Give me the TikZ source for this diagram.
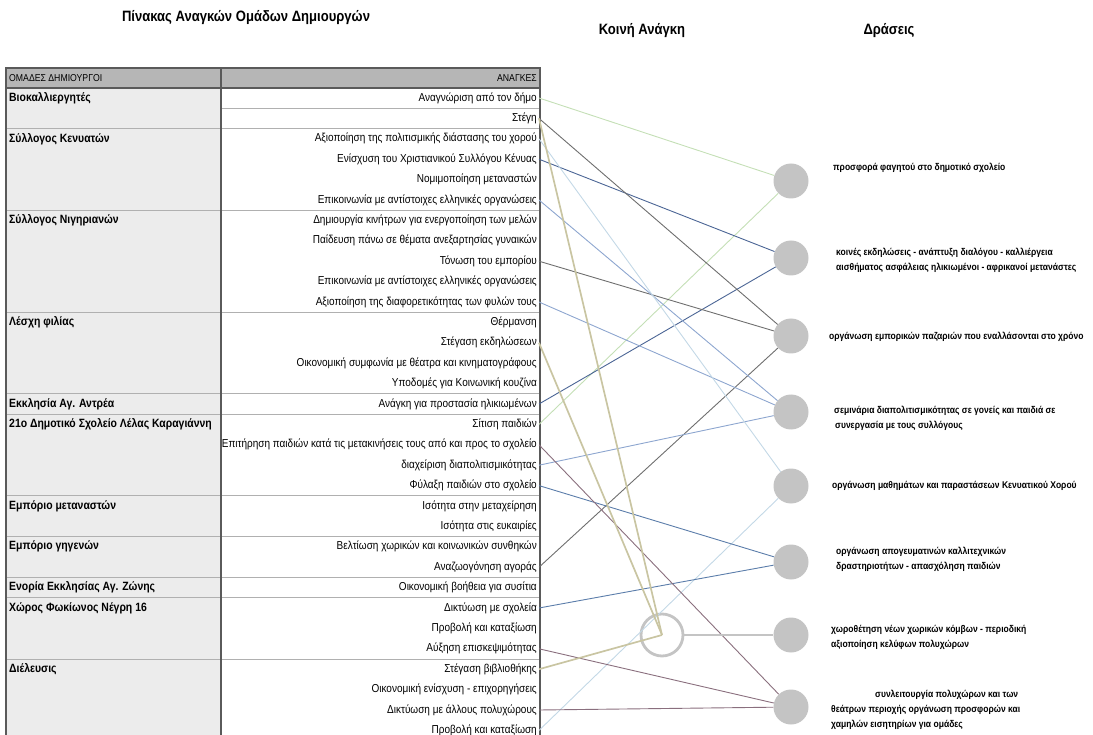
\documentclass[tikz,border=0pt]{standalone}
\usepackage{fontspec}
\setmainfont{Liberation Sans}[FakeStretch=0.87]
\usepackage{xcolor}
\usepackage{tikz}
\usetikzlibrary{calc}

\definecolor{headFill}{HTML}{B6B6B6}
\definecolor{colFill}{HTML}{ECECEC}
\definecolor{frameGray}{HTML}{5A5A5A}
\definecolor{sepGray}{HTML}{B0B0B0}
\definecolor{actGray}{HTML}{C4C4C4}
\definecolor{lnGreen}{HTML}{C4DFB6}
\definecolor{lnDark}{HTML}{6E6E6E}
\definecolor{lnKhaki}{HTML}{C9C5A2}
\definecolor{lnPale}{HTML}{C3D8E6}
\definecolor{lnNavy}{HTML}{4B6595}
\definecolor{lnMid}{HTML}{8DA6CF}
\definecolor{lnSteel}{HTML}{5B7DAA}
\definecolor{lnMauve}{HTML}{8A6F7E}

\tikzset{
  heading/.style={font=\bfseries\fontsize{15}{17}\selectfont},
  headtext/.style={font=\fontsize{10}{11}\selectfont, inner sep=0pt},
  need/.style={anchor=east, inner sep=2pt, font=\fontsize{11.5}{13}\selectfont},
  grpname/.style={anchor=west, inner sep=0pt, font=\bfseries\fontsize{12}{13}\selectfont},
  action/.style={circle, fill=actGray, minimum size=35pt, inner sep=0pt},
  actlabel/.style={anchor=west, align=left, inner sep=0pt, font=\bfseries\fontsize{9.8}{15}\selectfont},
  link/.style={line width=0.9pt},
}

\begin{document}
\begin{tikzpicture}[x=1pt,y=-1pt]
    \useasboundingbox (0,0) rectangle (1093,735);

    % Titles
    \node[heading] (tTable)   at (246,18) {Πίνακας Αναγκών Ομάδων Δημιουργών};
    \node[heading] (tCommon)  at (642,31) {Κοινή Ανάγκη};
    \node[heading] (tActions) at (889,31) {Δράσεις};

    % Table body
    \fill[colFill]  (6,88) rectangle (221,740);
    \fill[headFill] (6,68) rectangle (540,88);
    \draw[sepGray, line width=0.8pt] (221,108.2) -- (540,108.2); % Between the two rows
    \foreach \y in {128.6,210.2,312.2,393.8,414.2,495.8,536.6,577.4,597.8,659}
        \draw[sepGray, line width=1pt] (6,\y) -- (540,\y); % Group borders
    \draw[frameGray, line width=1.3pt] (6,740) -- (6,68) -- (540,68) -- (540,740);
    \draw[frameGray, line width=1.3pt] (6,88) -- (540,88);
    \draw[frameGray, line width=1.3pt] (221,68) -- (221,740);

    % Header
    \node[headtext, anchor=west] (hGroups) at (9,78)   {ΟΜΑΔΕΣ ΔΗΜΙΟΥΡΓΟΙ};
    \node[headtext, anchor=east] (hNeeds)  at (537,78) {ΑΝΑΓΚΕΣ};

    % Groups
    \node[grpname] (gBio)    at (9,98)    {Βιοκαλλιεργητές};
    \node[grpname] (gKenya)  at (9,138.8) {Σύλλογος Κενυατών};
    \node[grpname] (gNiger)  at (9,220.4) {Σύλλογος Νιγηριανών};
    \node[grpname] (gFilia)  at (9,322.4) {Λέσχη φιλίας};
    \node[grpname] (gAndrea) at (9,404)   {Εκκλησία Αγ. Αντρέα};
    \node[grpname] (gSchool) at (9,424.4) {21ο Δημοτικό Σχολείο Λέλας Καραγιάννη};
    \node[grpname] (gShopM)  at (9,506)   {Εμπόριο μεταναστών};
    \node[grpname] (gShopN)  at (9,546.8) {Εμπόριο γηγενών};
    \node[grpname] (gZoni)   at (9,587.6) {Ενορία Εκκλησίας Αγ. Ζώνης};
    \node[grpname] (gNegri)  at (9,608)   {Χώρος Φωκίωνος Νέγρη 16};
    \node[grpname] (gDiel)   at (9,669.2) {Διέλευσις};

    % Needs
    \node[need] (n1)  at (539,98)    {Αναγνώριση από τον δήμο};
    \node[need] (n2)  at (539,118.4) {Στέγη};
    \node[need] (n3)  at (539,138.8) {Αξιοποίηση της πολιτισμικής διάστασης του χορού};
    \node[need] (n4)  at (539,159.2) {Ενίσχυση του Χριστιανικού Συλλόγου Κένυας};
    \node[need] (n5)  at (539,179.6) {Νομιμοποίηση μεταναστών};
    \node[need] (n6)  at (539,200)   {Επικοινωνία με αντίστοιχες ελληνικές οργανώσεις};
    \node[need] (n7)  at (539,220.4) {Δημιουργία κινήτρων για ενεργοποίηση των μελών};
    \node[need] (n8)  at (539,240.8) {Παίδευση πάνω σε θέματα ανεξαρτησίας γυναικών};
    \node[need] (n9)  at (539,261.2) {Τόνωση του εμπορίου};
    \node[need] (n10) at (539,281.6) {Επικοινωνία με αντίστοιχες ελληνικές οργανώσεις};
    \node[need] (n11) at (539,302)   {Αξιοποίηση της διαφορετικότητας των φυλών τους};
    \node[need] (n12) at (539,322.4) {Θέρμανση};
    \node[need] (n13) at (539,342.8) {Στέγαση εκδηλώσεων};
    \node[need] (n14) at (539,363.2) {Οικονομική συμφωνία με θέατρα και κινηματογράφους};
    \node[need] (n15) at (539,383.6) {Υποδομές για Κοινωνική κουζίνα};
    \node[need] (n16) at (539,404)   {Ανάγκη για προστασία ηλικιωμένων};
    \node[need] (n17) at (539,424.4) {Σίτιση παιδιών};
    \node[need] (n18) at (539,444.8) {Επιτήρηση παιδιών κατά τις μετακινήσεις τους από και προς το σχολείο};
    \node[need] (n19) at (539,465.2) {διαχείριση διαπολιτισμικότητας};
    \node[need] (n20) at (539,485.6) {Φύλαξη παιδιών στο σχολείο};
    \node[need] (n21) at (539,506)   {Ισότητα στην μεταχείρηση};
    \node[need] (n22) at (539,526.4) {Ισότητα στις ευκαιρίες};
    \node[need] (n23) at (539,546.8) {Βελτίωση χωρικών και κοινωνικών συνθηκών};
    \node[need] (n24) at (539,567.2) {Αναζωογόνηση αγοράς};
    \node[need] (n25) at (539,587.6) {Οικονομική βοήθεια για συσίτια};
    \node[need] (n26) at (539,608)   {Δικτύωση με σχολεία};
    \node[need] (n27) at (539,628.4) {Προβολή και καταξίωση};
    \node[need] (n28) at (539,648.8) {Αύξηση επισκεψιμότητας};
    \node[need] (n29) at (539,669.2) {Στέγαση βιβλιοθήκης};
    \node[need] (n30) at (539,689.6) {Οικονομική ενίσχυση - επιχορηγήσεις};
    \node[need] (n31) at (539,710)   {Δικτύωση με άλλους πολυχώρους};
    \node[need] (n32) at (539,730.4) {Προβολή και καταξίωση};

    % Common need and actions
    \node[circle, draw=actGray, line width=2.8pt, minimum size=42pt] (common) at (662,635) {};
    \node[action] (act1) at (791,181) {};
    \node[action] (act2) at (791,258) {};
    \node[action] (act3) at (791,336) {};
    \node[action] (act4) at (791,412) {};
    \node[action] (act5) at (791,486) {};
    \node[action] (act6) at (791,562) {};
    \node[action] (act7) at (791,635) {};
    \node[action] (act8) at (791,707) {};

    \node[actlabel] (l1) at (833,168) {προσφορά φαγητού στο δημοτικό σχολείο};
    \node[actlabel] (l2) at (836,260) {κοινές εκδηλώσεις - ανάπτυξη διαλόγου - καλλιέργεια\\αισθήματος ασφάλειας ηλικιωμένοι - αφρικανοί μετανάστες};
    \node[actlabel] (l3) at (829,337) {οργάνωση εμπορικών παζαριών που εναλλάσονται στο χρόνο};
    \node[actlabel] (l4) at (834,418) {σεμινάρια διαπολιτισμικότητας σε γονείς και παιδιά σε\\\hspace*{1pt}συνεργασία με τους συλλόγους};
    \node[actlabel] (l5) at (832,486) {οργάνωση μαθημάτων και παραστάσεων Κενυατικού Χορού};
    \node[actlabel] (l6) at (836,559) {οργάνωση απογευματινών καλλιτεχνικών\\δραστηριοτήτων - απασχόληση παιδιών};
    \node[actlabel] (l7) at (831,637) {χωροθέτηση νέων χωρικών κόμβων - περιοδική\\αξιοποίηση κελύφων πολυχώρων};
    \node[actlabel] (l8) at (831,710) {\hspace*{44pt}συνλειτουργία πολυχώρων και των\\θεάτρων περιοχής οργάνωση προσφορών και\\χαμηλών εισητηρίων για ομάδες};

    % Links
    \draw[link, lnGreen] (n1.east) -- (act1);
    \draw[link, lnGreen] (n17.east) -- (act1);
    \draw[link, lnNavy] (n4.east) -- (act2);
    \draw[link, lnNavy] (n16.east) -- (act2);
    \draw[link, lnDark] (n2.east) -- (act3);
    \draw[link, lnDark] (n9.east) -- (act3);
    \draw[link, lnDark] (n24.east) -- (act3);
    \draw[link, lnMid] (n6.east) -- (act4);
    \draw[link, lnMid] (n11.east) -- (act4);
    \draw[link, lnMid] (n19.east) -- (act4);
    \draw[link, lnPale] (n3.east) -- (act5);
    \draw[link, lnPale] (n32.east) -- (act5);
    \draw[link, lnSteel] (n20.east) -- (act6);
    \draw[link, lnSteel] (n26.east) -- (act6);
    \draw[link, lnMauve] (n18.east) -- (act8);
    \draw[link, lnMauve] (n28.east) -- (act8);
    \draw[link, lnMauve] (n31.east) -- (act8);
    \draw[lnKhaki, line width=1.7pt] (n2.east) -- (common.center);
    \draw[lnKhaki, line width=1.7pt] (n13.east) -- (common.center);
    \draw[lnKhaki, line width=1.7pt] (n29.east) -- (common.center);
    \draw[actGray, line width=2.5pt] (common) -- (act7);
\end{tikzpicture}
\end{document}
